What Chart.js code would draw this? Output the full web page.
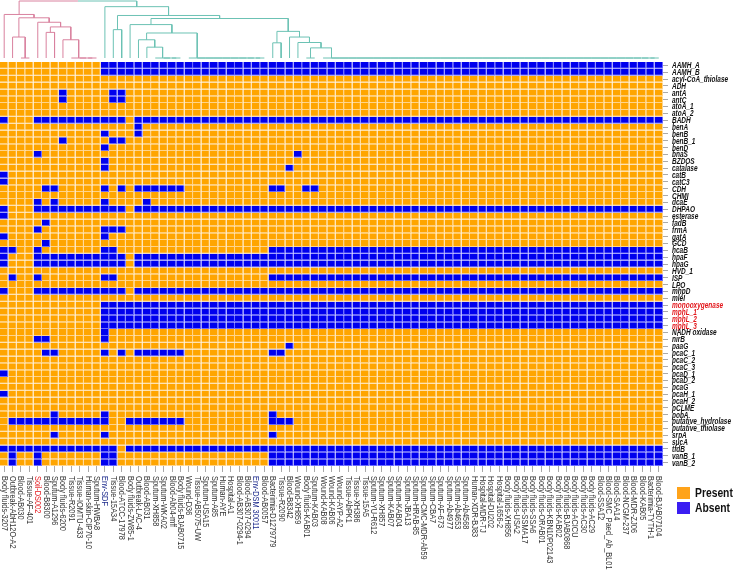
<!DOCTYPE html>
<html>
<head>
<meta charset="utf-8">
<script src="https://cdn.jsdelivr.net/npm/chart.js@4.4.0/dist/chart.umd.min.js"></script>
<style>
  html, body { margin: 0; padding: 0; background: #fff; }
  #wrap { position: relative; width: 740px; height: 571px; }
  #wrap canvas { position: absolute; left: 0; top: 0; }
</style>
</head>
<body>
<div id="wrap">
  <canvas id="heat" width="740" height="571"></canvas>
  <canvas id="tree" width="740" height="62"></canvas>
</div>
<script>
// strains (columns, in dendrogram order)
const strains = [
  'Body fluids-3207', 'Outbreak-AbH12O-A2', 'Blood-AB030', 'Tissue-AF-401', 'Soil-DS002',
  'Blood-B8300', 'Sputum-A1296', 'Body fluids-6200', 'Tissue-R2091', 'Tissue-IOMTU-433',
  'Human-skin-CIP70-10', 'Sputum-HWBA8', 'Env-SDF', 'Tissue-15A34', 'Blood-ATCC-17978',
  'Body fluids-ZW85-1', 'Outbreak-LAC-4', 'Blood-AB031', 'Sputum-XH858', 'Sputum-WKA02',
  'Blood-Ab04-mff', 'Body fluids-BJAB0715', 'Wound-D36', 'Tissue-AB5075-UW', 'Sputum-USA15',
  'Sputum-A85', 'Human-AYE', 'Hospital-A1', 'Blood-AB307-0294-1', 'Blood-AB307-0294',
  'Env-DSM 30011', 'Blood-AB0057', 'Bacterimia-D1279779', 'Tissue-R2090', 'Blood-B8342',
  'Wound-XH859', 'Body fluids-KAB01', 'Sputum-KAB03', 'Wound-KAB08', 'Wound-KAB06',
  'Wound-AYP-A2', 'Tissue-AbPK1', 'Tissue-XH386', 'Tissue-15A5', 'Sputum-YU-R612',
  'Sputum-XH857', 'Sputum-KAB07', 'Sputum-KAB04', 'Sputum-JBA13', 'Sputum-HRAB-85',
  'Sputum-CMC-MDR-Ab59', 'Sputum-CBA7', 'Sputum-AF-673', 'Sputum-Ab4977', 'Sputum-Ab4653',
  'Sputum-Ab4568', 'Human-XDR-BJ83', 'Hospital-MDR-TJ', 'Hospital-DU202', 'Hospital-1656-2',
  'Body fluids-XH856', 'Body fluids-USA2', 'Body fluids-SSMA17', 'Body fluids-SSA6', 'Body fluids-ORAB01',
  'Body fluids-KBN10P02143', 'Body fluids-KAB02', 'Body fluids-BJAB0868', 'Body fluids-ACICU', 'Body fluids-AC30',
  'Body fluids-AC29', 'Blood-SSA12', 'Blood-SMC_Paed_Ab_BL01', 'Blood-SAA14', 'Blood-NCGM-237',
  'Blood-MDR-ZJ06', 'Blood-KAB05', 'Bacterimia-TYTH-1', 'Blood-BJAB07104'
];
const soilStrains = ['Soil-DS002'];
const envStrains = ['Env-SDF', 'Env-DSM 30011'];

// genes (rows)
const genes = [
  'AAMH_A', 'AAMH_B', 'acyl-CoA_thiolase', 'ADH', 'antA', 'antC', 'atoA_1', 'atoA_2', 'BADH', 'benA',
  'benB', 'benB_1', 'benD', 'bnaS', 'BZDOS', 'catalase', 'catB', 'catC3', 'CDH', 'CHMI',
  'dcaE', 'DHPAO', 'esterase', 'fadB', 'frmA', 'gatA', 'GCD', 'hcaB', 'hpaF', 'hpaG',
  'HVD_1', 'ISP', 'LPO', 'mhpD', 'mleI', 'monooxygenase', 'mphL_1', 'mphL_2', 'mphL_3', 'NADH oxidase',
  'nirB', 'paaG', 'pcaC_1', 'pcaC_2', 'pcaC_3', 'pcaD_1', 'pcaD_2', 'pcaG', 'pcaH_1', 'pcaH_2',
  'pCLME', 'pobA', 'putative_hydrolase', 'putative_thiolase', 'srpA', 'sucA', 'tfdB', 'vanB_1', 'vanB_2'
];
const redGenes = ['monooxygenase', 'mphL_1', 'mphL_2', 'mphL_3'];

// columns (1-based) where each gene is absent; all other cells are present
const absentCols = [
  '13-79', '13-79', '', '', '8,14-15', '8,14-15', '', '', '1,5-15,17-79', '17',
  '13,17', '8,14-15', '13', '5,36', '13', '13,35', '1', '1', '6-7,13,15,17-22,33-34,37-38', '',
  '5,7,13,18', '1,5-15,17-79', '1', '6', '5,13-15', '1,13', '6', '1-2,5,13-14,33-79', '1,5-15,17-79', '1,5-15,17-79',
  '', '2,5,13-14,33-79', '', '1,5-15,17-79', '', '13-79', '13-79', '13-79', '13-79', '13',
  '5-6,13', '35', '6-7,13,15,17-22,33-34', '', '', '1', '', '', '1', '',
  '', '7,13,33', '2-13,16-22,33-35', '', '7,13,33', '', '1-14,16-79', '2,5,13-14,33-79', '2,5,13-14,33-79'
];

// dendrogram over the columns: [mergeHeight, left, right], leaves are column numbers
const chain = cols => cols.length === 1 ? cols[0] : [0, cols[0], chain(cols.slice(1))];
const span = (a, b) => Array.from({ length: b - a + 1 }, (_, i) => a + i);
const pinkTree = [43, 1, [39.7, [20.7, 2, chain([3, 4])], [35.3, 5, [30.7, [25.3, 6, 7], [18, 8, chain(span(9, 12))]]]]];
const tealTree = [50.7, 13, [42, [28, 14, 15], [39,
  [33, 16, [24.7, [18, 17, [10.7, 18, chain(span(19, 22))]], chain(span(23, 32))]],
  [26.3, [15, 33, 34], [20.7, 35, [15.3, 36, [10, chain([37, 38]), chain(span(39, 79))]]]]]]];
const rootHeight = 56.3;

const legendLabels = ['Present', 'Absent'];

const ORANGE = '#FFA500', ORANGE_LINE = '#FFD48A';
const BLUE = '#0000EE', BLUE_LINE = '#6A6AFF';
const PINK = '#D9829F', TEAL = '#6CC2B4';
const FONT = '"Liberation Sans", Arial, sans-serif';

function parseCols(str) {
  const set = new Set();
  str.split(',').filter(Boolean).forEach(part => {
    const [a, b] = part.split('-').map(Number);
    for (let c = a; c <= (b || a); c++) set.add(c - 1);
  });
  return set;
}
const absent = absentCols.map(parseCols);

// 每列一个数据集，浮动条形构成格子
const heatDatasets = strains.map((s, c) => ({
  label: s,
  data: genes.map(() => [c, c + 1]),
  backgroundColor: genes.map((g, r) => absent[r].has(c) ? BLUE : ORANGE),
  borderColor: genes.map((g, r) => absent[r].has(c) ? BLUE_LINE : ORANGE_LINE),
  borderWidth: { top: 0, left: 0, right: 1, bottom: 1 },
  borderSkipped: false,
  inflateAmount: 0,
  barPercentage: 1,
  categoryPercentage: 1,
  grouped: false
}));

// 窄字体：横向压缩文字
function narrowText(ctx, text, x, y, angle, squeeze) {
  ctx.save();
  ctx.translate(x, y);
  ctx.rotate(angle);
  ctx.scale(squeeze, 1);
  ctx.fillText(text, 0, 0);
  ctx.restore();
}

const labelsPlugin = {
  id: 'labels',
  afterDraw(chart) {
    const { ctx, scales: { x, y }, chartArea } = chart;
    ctx.save();
    ctx.textAlign = 'left';
    ctx.textBaseline = 'middle';

    // column labels, rotated clockwise
    ctx.font = '9px ' + FONT;
    strains.forEach((s, i) => {
      ctx.fillStyle = soilStrains.includes(s) ? '#E3161B' : envStrains.includes(s) ? '#1C2A8C' : '#333';
      narrowText(ctx, s, x.getPixelForValue(i + 0.5), chartArea.bottom + 10, Math.PI / 2, 0.82);
    });

    // row labels
    ctx.font = 'italic bold 9px ' + FONT;
    genes.forEach((g, i) => {
      ctx.fillStyle = redGenes.includes(g) ? '#E3161B' : '#111';
      narrowText(ctx, g, chartArea.right + 9, y.getPixelForValue(i) + 0.5, 0, 0.72);
    });

    // legend
    const colors = ['#FFA31A', '#3A1DF2'];
    const lx = chartArea.right + 14;
    ctx.font = 'bold 12px ' + FONT;
    legendLabels.forEach((t, i) => {
      const ly = chartArea.bottom + 21 + i * 15;
      ctx.fillStyle = colors[i];
      ctx.fillRect(lx, ly, 13, 12);
      ctx.fillStyle = '#111';
      narrowText(ctx, t, lx + 18, ly + 6.5, 0, 0.86);
    });
    ctx.restore();
  }
};

new Chart(document.getElementById('heat'), {
  type: 'bar',
  data: { labels: genes, datasets: heatDatasets },
  options: {
    indexAxis: 'y',
    responsive: false,
    animation: false,
    events: [],
    layout: { padding: { top: 62, left: 0, right: 0, bottom: 0 } },
    plugins: { legend: { display: false }, tooltip: { enabled: false } },
    scales: {
      x: {
        type: 'linear',
        min: 0,
        max: strains.length,
        position: 'bottom',
        grid: { drawOnChartArea: false, drawTicks: true, tickLength: 6, color: '#aaa' },
        border: { display: false },
        afterBuildTicks: s => { s.ticks = strains.map((_, i) => ({ value: i + 0.5 })); },
        ticks: { display: false, autoSkip: false },
        afterFit: s => { s.height = 105; }
      },
      y: {
        type: 'category',
        position: 'right',
        offset: true,
        grid: { offset: false, drawOnChartArea: false, drawTicks: true, tickLength: 5, color: '#aaa' },
        border: { display: false },
        ticks: { display: false, autoSkip: false },
        afterFit: s => { s.width = 77; }
      }
    }
  },
  plugins: [labelsPlugin]
});

// dendrogram
const treeDatasets = [];
function place(node, color) {
  if (typeof node === 'number') return { x: node - 0.5, h: 0 };
  const [h, a, b] = node;
  const L = place(a, color), R = place(b, color);
  treeDatasets.push({
    data: [{ x: L.x, y: L.h }, { x: L.x, y: h }, { x: R.x, y: h }, { x: R.x, y: R.h }],
    borderColor: color
  });
  return { x: (L.x + R.x) / 2, h };
}
const pinkTop = place(pinkTree, PINK);
const tealTop = place(tealTree, TEAL);
const rootX = (pinkTop.x + tealTop.x) / 2;
treeDatasets.push(
  { data: [{ x: pinkTop.x, y: pinkTop.h }, { x: pinkTop.x, y: rootHeight }, { x: rootX, y: rootHeight }], borderColor: PINK },
  { data: [{ x: rootX, y: rootHeight }, { x: tealTop.x, y: rootHeight }, { x: tealTop.x, y: tealTop.h }], borderColor: TEAL }
);

new Chart(document.getElementById('tree'), {
  type: 'scatter',
  data: {
    datasets: treeDatasets.map(d => ({
      ...d, showLine: true, pointRadius: 0, borderWidth: 1, clip: false, tension: 0
    }))
  },
  options: {
    responsive: false,
    animation: false,
    events: [],
    layout: { padding: { top: 1, bottom: 4, left: 0, right: 77 } },
    plugins: { legend: { display: false }, tooltip: { enabled: false } },
    scales: {
      x: { type: 'linear', min: 0, max: strains.length, display: false },
      y: { type: 'linear', min: 0, max: rootHeight, display: false }
    }
  }
});
</script>
</body>
</html>
